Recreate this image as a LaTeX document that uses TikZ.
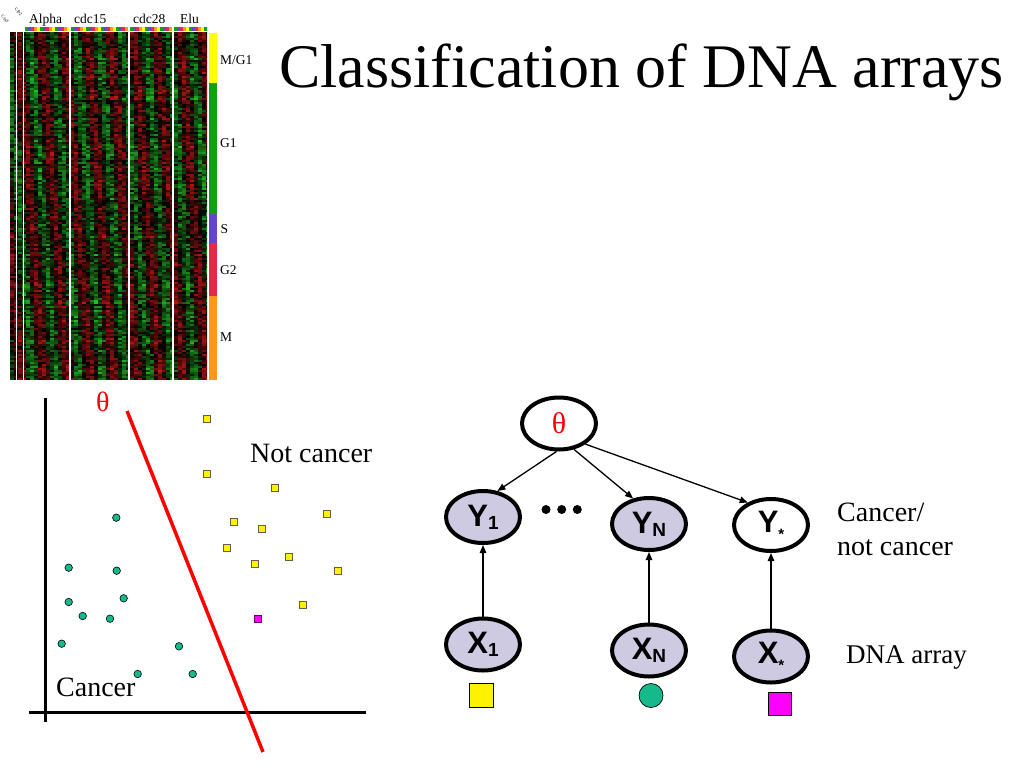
\documentclass[tikz,border=0pt]{standalone}
\usepackage{fontspec}
\setmainfont{Liberation Serif}
\setsansfont{Liberation Sans}
\usetikzlibrary{shapes.geometric,arrows.meta}
\definecolor{hmred}{RGB}{205,25,25}
\definecolor{hmgreen}{RGB}{40,205,40}
\definecolor{lav}{RGB}{205,202,226}
\definecolor{teal2}{RGB}{20,185,140}
\definecolor{mag}{RGB}{255,0,255}
\definecolor{barY}{RGB}{255,255,0}
\definecolor{barG}{RGB}{20,160,20}
\definecolor{barB}{RGB}{100,70,200}
\definecolor{barR}{RGB}{232,40,70}
\definecolor{barO}{RGB}{255,150,30}
\tikzset{
  bnode/.style={ellipse,draw=black,line width=4pt,minimum width=74pt,minimum height=52pt,inner sep=0pt,font=\sffamily\bfseries\fontsize{31}{31}\selectfont},
  ynode/.style={bnode,fill=lav},
  arr/.style={line width=1.3pt,-{Triangle[length=8pt,width=6.5pt]}},
  ysq/.style={fill=yellow,draw=black!70!yellow,line width=0.8pt,minimum size=7pt,inner sep=0pt,shape=rectangle},
  gdot/.style={circle,fill=teal2,draw=black,line width=0.6pt,minimum size=7.5pt,inner sep=0pt},
  lbl/.style={font=\fontsize{28}{30}\selectfont,anchor=base west,inner sep=0pt},
  hlbl/.style={font=\fontsize{13.5}{14}\selectfont,anchor=base west,inner sep=0pt},
  tinyrot/.style={font=\fontsize{4.5}{5}\selectfont,rotate=-45,inner sep=0pt}
}
\newcommand{\subs}[1]{\raisebox{-3pt}{\fontsize{19}{19}\selectfont #1}}
\newcommand{\subst}{\raisebox{-7pt}{\fontsize{15}{15}\selectfont *}}
\begin{document}
\begin{tikzpicture}[x=1pt,y=-1pt]
\useasboundingbox (0,0) rectangle (1024,768);
\fill[white] (0,0) rectangle (1024,768);

% ---------- heat map ----------
\pgfmathsetseed{11}
\begin{scope}
\clip (10,32) rectangle (207,380);
\foreach \r in {0,...,173} {
  \pgfmathsetmacro\yy{32+2*\r}
  \pgfmathsetmacro\rg{0.5+0.5*rnd}
  \pgfmathsetmacro\jt{30*rand}
  \foreach \c in {0,...,49} {
    \pgfmathsetmacro\v{\rg*(0.9*sin(\c*62-\r*2.4+\jt))+0.4*rand}
    \pgfmathsetmacro\p{int(min(100,abs(\v)*75))}
    \ifdim\v pt>0pt \def\cc{hmred}\else\def\cc{hmgreen}\fi
    \fill[fill=\cc!\p!black] ({10+4*\c},\yy) rectangle ++(4.05,2.05);
  }
}
\end{scope}
% column colour strips
\foreach \gx/\gw in {25/44,71/57,130/42,174/33} {
  \begin{scope}
  \clip (\gx,27.5) rectangle ++(\gw,4);
  \foreach \k in {0,15,...,60} {
    \fill[barG] ({\gx+\k},27.5) rectangle ++(3,4);
    \fill[barB] ({\gx+\k+3},27.5) rectangle ++(3,4);
    \fill[barR] ({\gx+\k+6},27.5) rectangle ++(3,4);
    \fill[barO] ({\gx+\k+9},27.5) rectangle ++(3,4);
    \fill[barY] ({\gx+\k+12},27.5) rectangle ++(3,4);
  }
  \end{scope}
}
% white separators
\foreach \wx in {16.8,23.5} \draw[white,line width=1.3pt] (\wx,32) -- (\wx,380);
\foreach \wx in {70,129,173} \draw[white,line width=1.5pt] (\wx,27.5) -- (\wx,380);
% phase bar
\fill[barY] (208.5,33) rectangle (216.5,83);
\fill[barG] (208.5,83) rectangle (216.5,214);
\fill[barB] (208.5,214) rectangle (216.5,243);
\fill[barR] (208.5,243) rectangle (216.5,296);
\fill[barO] (208.5,296) rectangle (216.5,380);
% heat map labels
\node[hlbl] (lalpha) at (29,23.3) {Alpha};
\node[hlbl] (lcdc15) at (74,23.3) {cdc15};
\node[hlbl] (lcdc28) at (133,23.3) {cdc28};
\node[hlbl] (lelu) at (180,23.3) {Elu};
\node[tinyrot] (lcln) at (5,19) {Cln3};
\node[tinyrot] (lclb) at (18.5,12) {Clb2};
\node[hlbl] (pmg) at (220,64) {M/G1};
\node[hlbl] (pg1) at (220,147) {G1};
\node[hlbl] (ps) at (220.5,233) {S};
\node[hlbl] (pg2) at (220,274) {G2};
\node[hlbl] (pm) at (220,341.5) {M};

% ---------- title ----------
\node[anchor=base west,inner sep=0pt,font=\fontsize{62}{62}\selectfont] (title) at (279,87) {Classification of DNA arrays};

% ---------- scatter plot ----------
\coordinate (ytop) at (45.5,398);
\coordinate (ybot) at (45.5,722);
\coordinate (xl) at (29,712);
\coordinate (xr) at (366,712);
\draw[line width=3pt] (ytop) -- (ybot);
\draw[line width=3pt] (xl) -- (xr);
\coordinate (rl1) at (127,411);
\coordinate (rl2) at (263,752);
\draw[red,line width=3.5pt] (rl1) -- (rl2);
\node[lbl,text=red] (thlab) at (96,411.5) {θ};
\node[lbl] (notc) at (250,462.7) {Not cancer};
\node[lbl] (canc) at (56,696) {Cancer};
\foreach \i/\px/\py in {1/206.7/419,2/206.7/473.7,3/275.3/487.7,4/327/513.7,5/234.3/522.3,6/262/529,7/226.7/547.7,8/289.3/556.7,9/255/563.7,10/337.7/570.7,11/303/605}
  \node[ysq] (sq\i) at (\px,\py) {};
\node[ysq,fill=mag,draw=black!60!mag] (sqm) at (258,619) {};
\foreach \i/\px/\py in {1/116.3/517.7,2/68.7/567.7,3/116.7/570.7,4/68.7/602,5/123.7/598.3,6/82.7/616,7/110/618.7,8/61.7/643.7,9/179/646.3,10/137.7/674,11/192.7/674}
  \node[gdot] (gd\i) at (\px,\py) {};

% ---------- graphical model ----------
\node[bnode,fill=white,font=\fontsize{30}{30}\selectfont,text=red] (th) at (559,423.5) {θ};
\node[ynode] (Y1) at (483,517) {Y\subs{1}};
\node[ynode] (YN) at (649,524) {Y\subs{N}};
\node[bnode,fill=white] (Ys) at (771,525) {Y\subst};
\node[ynode] (X1) at (483,644.5) {X\subs{1}};
\node[ynode] (XN) at (649,650.5) {X\subs{N}};
\node[ynode] (Xs) at (771,656.5) {X\subst};
\foreach \i/\dx in {1/546,2/561.7,3/577.3}
  \fill (\dx,509.5) circle (4.5pt) coordinate (dot\i);
\draw[arr] (th.265) -- (Y1.61);
\draw[arr] (th.300) -- (YN.122);
\draw[arr] (th.322) -- (Ys.136);
\draw[arr] (X1.north) -- (Y1.south);
\draw[arr] (XN.north) -- (YN.south);
\draw[arr] (Xs.north) -- (Ys.south);
\node[rectangle,fill=yellow,draw=black,line width=0.7pt,minimum size=24pt,inner sep=0pt] (ex1) at (481.5,695.5) {};
\node[circle,fill=teal2,draw=black,line width=0.7pt,minimum size=24pt,inner sep=0pt] (exn) at (651,695.5) {};
\node[rectangle,fill=mag,draw=black,line width=0.7pt,minimum size=23.5pt,inner sep=0pt] (exs) at (780,704) {};
\node[lbl] (cnc1) at (837,521.7) {Cancer/};
\node[lbl] (cnc2) at (837,555) {not cancer};
\node[lbl,font=\fontsize{27}{28}\selectfont] (dna) at (846,663) {DNA array};
\end{tikzpicture}
\end{document}
